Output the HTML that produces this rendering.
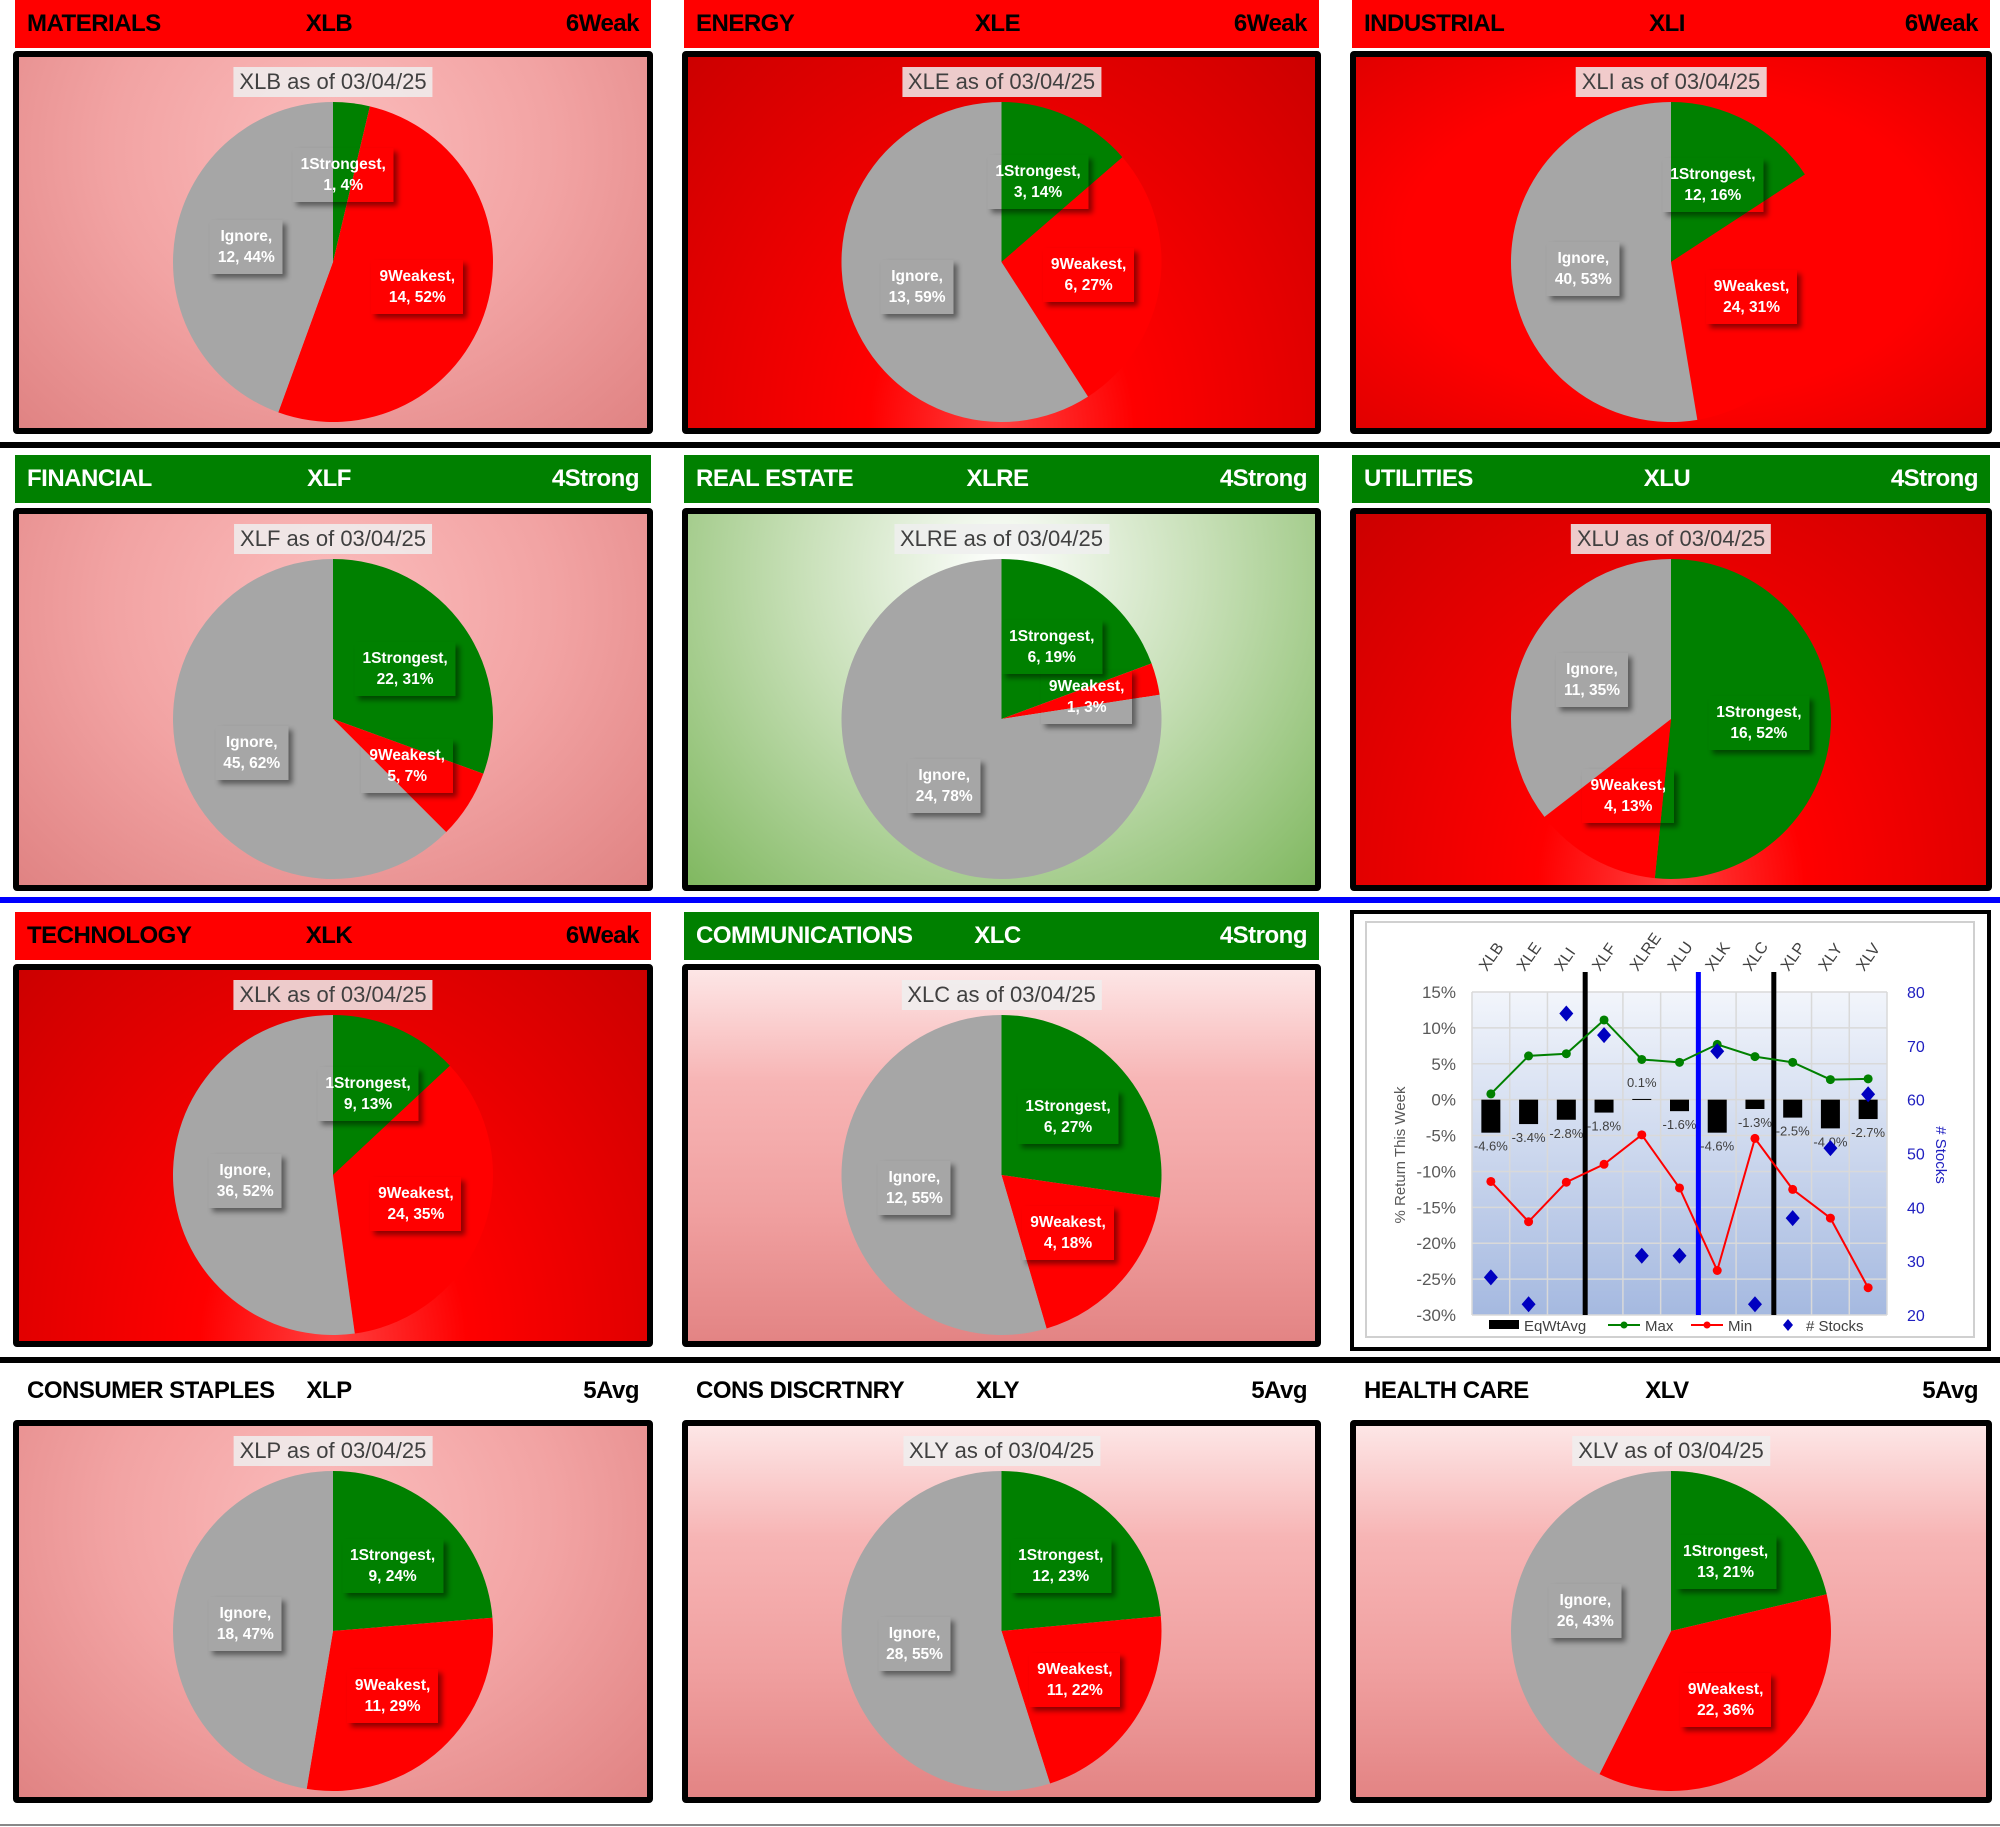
<!DOCTYPE html>
<html><head><meta charset="utf-8">
<style>
body{margin:0;width:2000px;height:1827px;background:#fff;position:relative;overflow:hidden;font-family:"Liberation Sans",sans-serif;}
.hdr{position:absolute;height:48px;font-weight:bold;font-size:24px;line-height:48px;letter-spacing:-0.5px}
.hdr span{position:absolute;top:0}
.box{position:absolute;box-sizing:border-box;border:6px solid #000;border-radius:4px;overflow:hidden}
.ttl{position:absolute;font-size:22px;color:#404040;background:rgba(238,238,238,0.85);padding:2px 6px;transform:translateX(-50%);white-space:nowrap}
.lbl{position:absolute;color:#fff;font-weight:bold;font-size:15.5px;line-height:21px;text-align:center;padding:6px 8px;box-shadow:4px 4px 5px rgba(0,0,0,0.45);transform:translate(-50%,-50%);white-space:nowrap}
.sep{position:absolute;left:0;width:2000px}
</style></head>
<body>
<div class="sep" style="top:442px;height:6px;background:#000"></div>
<div class="sep" style="top:897px;height:6px;background:#0000ff"></div>
<div class="sep" style="top:1357px;height:6px;background:#000"></div>
<div class="sep" style="top:1824px;height:2px;background:#888"></div>
<div id="panels"></div>
<svg id="chart" style="position:absolute;left:0;top:0" width="2000" height="1827"></svg>
<script>
// pie data: strongest, weakest, ignore
const sectors=["MATERIALS","ENERGY","INDUSTRIAL","FINANCIAL","REAL ESTATE","UTILITIES","TECHNOLOGY","COMMUNICATIONS","CONSUMER STAPLES","CONS DISCRTNRY","HEALTH CARE"];
const tickers=["XLB","XLE","XLI","XLF","XLRE","XLU","XLK","XLC","XLP","XLY","XLV"];
const ratings=["6Weak","6Weak","6Weak","4Strong","4Strong","4Strong","6Weak","4Strong","5Avg","5Avg","5Avg"];
const strongest=[1,3,12,22,6,16,9,6,9,12,13];
const weakest=[14,6,24,5,1,4,24,4,11,11,22];
const ignore=[12,13,40,45,24,11,36,12,18,28,26];
const strongPct=[4,14,16,31,19,52,13,27,24,23,21];
const weakPct=[52,27,31,7,3,13,35,18,29,22,36];
const ignorePct=[44,59,53,62,78,35,52,55,47,55,43];

// chart data
const eqWtAvg=[-4.6,-3.4,-2.8,-1.8,0.1,-1.6,-4.6,-1.3,-2.5,-4.0,-2.7];
const maxRet=[0.8,6.1,6.4,11.1,5.6,5.2,7.7,6.0,5.2,2.8,2.9];
const minRet=[-11.4,-17.0,-11.5,-9.0,-4.9,-12.3,-23.8,-5.4,-12.5,-16.5,-26.2];
const numStocks=[27,22,76,72,31,31,69,22,38,51,61];
const leftTicks=[15,10,5,0,-5,-10,-15,-20,-25,-30];
const rightTicks=[80,70,60,50,40,30,20];

const bgs={
 pink:"radial-gradient(ellipse at 50% 25%,#fbbcbc 0%,#f2a3a3 50%,#e08383 100%)",
 pinkTop:"linear-gradient(180deg,#fde6e6 0%,#f7b5b5 30%,#f0a0a0 65%,#e38484 100%)",
 dark:"radial-gradient(ellipse at 50% 100%,#ff4040 0%,#ff0000 30%,#cc0000 100%)",
 red:"radial-gradient(ellipse at 50% 50%,#ff0000 60%,#e00000 100%)",
 green:"radial-gradient(ellipse at 50% 15%,#ffffff 0%,#c8e0b8 45%,#80b860 100%)"
};
const panelBg=["pink","dark","red","pink","green","dark","dark","pinkTop","pink","pinkTop","pinkTop"];
const colX=[13,682,1350],colW=[640,639,642];
const rowHdrY=[0,455,912,1367],rowBoxY=[51,508,964,1420];
const boxH=383;
const P=document.getElementById('panels');
function mk(tag,cls,name,inter){const e=document.createElement(tag);if(cls)e.className=cls;
 
 
 return e;}
for(let i=0;i<11;i++){
 const col=i<6?i%3:(i==6?0:(i==7?1:(i-8)));
 const row=i<3?0:(i<6?1:(i<8?2:3));
 const x=colX[col],w=colW[col];
 const t=tickers[i].toLowerCase();
 const h=mk('div','hdr',t+'-header','false');
 const rc=ratings[i];
 const bg=rc=="6Weak"?"#ff0000":(rc=="4Strong"?"#008000":"#fff");
 const fc=rc=="4Strong"?"#fff":"#000";
 h.style.cssText=`left:${x+2}px;top:${rowHdrY[row]}px;width:${w-4}px;background:${bg};color:${fc}`;
 const s1=mk('span','',t+'-sector-name','false');s1.textContent=sectors[i];s1.style.left='12px';
 const s2=mk('span','',t+'-ticker','false');s2.textContent=tickers[i];s2.style.left=(w/2-6)+'px';s2.style.transform='translateX(-50%)';
 const s3=mk('span','',t+'-rating','false');s3.textContent=rc;s3.style.right='12px';
 h.append(s1,s2,s3);P.appendChild(h);
 const b=mk('div','box',t+'-pie-panel','false');
 b.style.cssText=`left:${x}px;top:${rowBoxY[row]}px;width:${w}px;height:${boxH}px;background:${bgs[panelBg[i]]}`;
 P.appendChild(b);
 const cx=w/2-6,cy=205,r=160;
 const ti=mk('div','ttl',t+'-chart-title','false');ti.textContent=tickers[i]+" as of 03/04/25";
 ti.style.left=cx+'px';ti.style.top='10px';b.appendChild(ti);
 const svg=document.createElementNS("http://www.w3.org/2000/svg","svg");
 
 
 svg.setAttribute('width',w);svg.setAttribute('height',boxH);svg.style.cssText='position:absolute;left:0;top:0';
 b.appendChild(svg);
 const vals=[strongest[i],weakest[i],ignore[i]];
 const cols=["#008000","#ff0000","#a6a6a6"],names=["1Strongest","9Weakest","Ignore"];
 const tot=vals[0]+vals[1]+vals[2];
 let a0=0;
 const pctArr=[strongPct[i],weakPct[i],ignorePct[i]];
 for(let k=0;k<3;k++){
  const frac=vals[k]/tot,a1=a0+frac*2*Math.PI;
  const p=document.createElementNS(svg.namespaceURI,'path');
  const x0=cx+r*Math.sin(a0),y0=cy-r*Math.cos(a0),x1=cx+r*Math.sin(a1),y1=cy-r*Math.cos(a1);
  p.setAttribute('d',`M${cx},${cy}L${x0},${y0}A${r},${r} 0 ${frac>0.5?1:0} 1 ${x1},${y1}Z`);
  p.setAttribute('fill',cols[k]);
  
  
  svg.appendChild(p);
  const am=(a0+a1)/2;
  const l=mk('div','lbl',t+'-label-'+names[k].toLowerCase(),'false');
  l.innerHTML=names[k]+",<br>"+vals[k]+", "+pctArr[k]+"%";
  l.style.left=(cx+r*0.55*Math.sin(am))+'px';l.style.top=(cy-r*0.55*Math.cos(am))+'px';
  b.appendChild(l);
  a0=a1;
 }
}
// ---- chart ----
const S=document.getElementById('chart');
const NS=S.namespaceURI;
function el(tag,attrs,name){const e=document.createElementNS(NS,tag);for(const k in attrs)e.setAttribute(k,attrs[k]);
 
 
 S.appendChild(e);return e;}
function tx(x,y,s,attrs,name){const e=el('text',Object.assign({x:x,y:y,'font-family':'Liberation Sans, sans-serif'},attrs),name);e.textContent=s;return e;}
const PL=1472,PR=1887,PT=992,PB=1315;
const n=tickers.length,cw=(PR-PL)/n;
const yL=v=>PT+(15-v)/45*(PB-PT);
const yR=v=>PT+(80-v)/60*(PB-PT);
const xc=i=>PL+cw*(i+0.5);
el('rect',{x:1352,y:912,width:637,height:437,fill:'#fff',stroke:'#000','stroke-width':4},'chart-frame');
el('rect',{x:1366,y:922,width:608,height:415,fill:'none',stroke:'#d0d0d0','stroke-width':2},'chart-inner-border');
const defs=el('defs',{},'defs');
defs.innerHTML='<linearGradient id="pg" x1="0" y1="0" x2="0" y2="1"><stop offset="0" stop-color="#f2f5fb"/><stop offset="1" stop-color="#a5b9e0"/></linearGradient>';
el('rect',{x:PL,y:PT,width:PR-PL,height:PB-PT,fill:'url(#pg)'},'plot-area');
leftTicks.forEach(v=>{el('line',{x1:PL,x2:PR,y1:yL(v),y2:yL(v),stroke:'#d9d9d9','stroke-width':1.5},'gridline');
 tx(PL-16,yL(v)+6,v+'%',{'font-size':17,fill:'#595959','text-anchor':'end'},'y-tick-label');});
for(let i=0;i<=n;i++)el('line',{x1:PL+cw*i,x2:PL+cw*i,y1:PT,y2:PB,stroke:'#d9d9d9','stroke-width':1.5},'v-gridline');
rightTicks.forEach(v=>tx(PR+20,yR(v)+6,String(v),{'font-size':16,fill:'#2020c0'},'y2-tick-label'));
tickers.forEach((c,i)=>tx(xc(i)-4,972,c,{'font-size':16,fill:'#404040',transform:`rotate(-55 ${xc(i)-4} 972)`},'x-category-label'));
// bars
eqWtAvg.forEach((v,i)=>{const y0=yL(0),y1=yL(v);
 el('rect',{x:xc(i)-9.5,y:Math.min(y0,y1),width:19,height:Math.max(1,Math.abs(y1-y0)),fill:'#000'},'bar-'+tickers[i].toLowerCase());
 tx(xc(i),v>=0?y1-12:y1+18,v.toFixed(1)+'%',{'font-size':13,fill:'#404040','text-anchor':'middle'},'bar-value-label');});
// separators
[[3,'#000'],[6,'#0000ff'],[8,'#000']].forEach(([k,c])=>el('line',{x1:PL+cw*k,x2:PL+cw*k,y1:972,y2:PB,stroke:c,'stroke-width':5},'group-divider'));
function line(arr,col,name){el('polyline',{points:arr.map((v,i)=>xc(i)+','+yL(v)).join(' '),fill:'none',stroke:col,'stroke-width':2},name+'-line');
 arr.forEach((v,i)=>el('circle',{cx:xc(i),cy:yL(v),r:4.5,fill:col},name+'-point'));}
line(maxRet,'#008000','max');line(minRet,'#ff0000','min');
numStocks.forEach((v,i)=>{const x=xc(i),y=yR(v);el('path',{d:`M${x},${y-8}L${x+7},${y}L${x},${y+8}L${x-7},${y}Z`,fill:'#0000c0'},'stocks-marker');});
tx(1405,1155,'% Return This Week',{'font-size':15,fill:'#595959','text-anchor':'middle',transform:'rotate(-90 1405 1155)'},'y-axis-title');
tx(1936,1155,'# Stocks',{'font-size':15,fill:'#2020c0','text-anchor':'middle',transform:'rotate(90 1936 1155)'},'y2-axis-title');
// legend
el('rect',{x:1489,y:1320,width:30,height:9,fill:'#000'},'legend-eqwtavg-swatch');
tx(1524,1331,'EqWtAvg',{'font-size':15,fill:'#404040'},'legend-eqwtavg');
el('line',{x1:1608,x2:1640,y1:1325,y2:1325,stroke:'#008000','stroke-width':2},'legend-max-swatch');
el('circle',{cx:1624,cy:1325,r:3.5,fill:'#008000'},'legend-max-dot');
tx(1645,1331,'Max',{'font-size':15,fill:'#404040'},'legend-max');
el('line',{x1:1691,x2:1723,y1:1325,y2:1325,stroke:'#ff0000','stroke-width':2},'legend-min-swatch');
el('circle',{cx:1707,cy:1325,r:3.5,fill:'#ff0000'},'legend-min-dot');
tx(1728,1331,'Min',{'font-size':15,fill:'#404040'},'legend-min');
el('path',{d:'M1788,1319L1793,1325L1788,1331L1783,1325Z',fill:'#0000c0'},'legend-stocks-swatch');
tx(1806,1331,'# Stocks',{'font-size':15,fill:'#404040'},'legend-stocks');
</script>
</body></html>
